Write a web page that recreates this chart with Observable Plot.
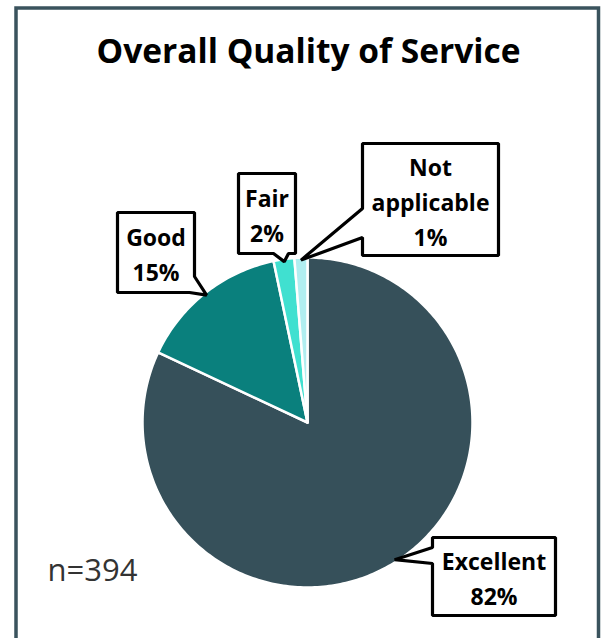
<!DOCTYPE html>
<html><head><meta charset="utf-8">
<script src="https://cdn.jsdelivr.net/npm/d3@7"></script>
<script src="https://cdn.jsdelivr.net/npm/@observablehq/plot@0.6"></script>
<style>html,body{margin:0;padding:0;background:#fff;overflow:hidden;}</style>
</head><body><div id="chart"></div>
<script>
// ---- data ----
const title = "Overall Quality of Service";
const categories = ["Excellent", "Good", "Fair", "Not applicable"];
const counts = [323, 58, 8, 5];          // estimated responses (n = 394)
const labelNames = ["Excellent", "Good", "Fair", "Not\napplicable"];
const sampleNote = "n=394";
const colors = ["#36505a", "#0a807d", "#40e0d0", "#b0eef0"];

// ---- layout (pixels) ----
const W = 602, H = 638, CX = 307, CY = 422, R = 165;
const calloutShapes = {
  "Excellent": [[432,537],[555,537],[555,615],[432,615],[432,563],"tip",[432,547]],
  "Good": [[117,212],[194,212],[194,276],"tip",[189,292],[117,292]],
  "Fair": [[238,173],[295,173],[295,253],[288,253],"tip",[273,253],[238,253]],
  "Not applicable": [[362,143],[498,143],[498,255],[362,255],[362,237],"tip",[362,208]]
};
const ux = px => (px - CX) / R;
const uy = py => (CY - py) / R;

// ---- geometry from data ----
const total = d3.sum(counts);
const slices = d3.pie().sort(null).value(d => d.value)(
  categories.map((c, i) => ({cat: c, value: counts[i]}))
);
const piePts = slices.flatMap(s => {
  const n = Math.max(2, Math.ceil((s.endAngle - s.startAngle) / (Math.PI / 180)));
  const pts = [{cat: s.data.cat, x: 0, y: 0}];
  for (let k = 0; k <= n; k++) {
    const a = s.startAngle + (s.endAngle - s.startAngle) * k / n;
    pts.push({cat: s.data.cat, x: Math.sin(a), y: Math.cos(a)});
  }
  return pts;
});
const bubblePts = slices.flatMap(s => {
  const mid = (s.startAngle + s.endAngle) / 2;
  const tip = {x: 0.985 * Math.sin(mid), y: 0.985 * Math.cos(mid)};
  return calloutShapes[s.data.cat].map(p =>
    p === "tip" ? {cat: s.data.cat, ...tip} : {cat: s.data.cat, x: ux(p[0]), y: uy(p[1])}
  );
});
const labels = categories.map((c, i) => {
  const shp = calloutShapes[c].filter(p => p !== "tip");
  const xs = shp.map(p => p[0]), ys = shp.map(p => p[1]);
  return {cat: c, text: labelNames[i] + "\n" + Math.round(100 * counts[i] / total) + "%",
    x: ux((Math.min(...xs) + Math.max(...xs)) / 2),
    y: uy((Math.min(...ys) + Math.max(...ys)) / 2)};
});

const chart = Plot.plot({
  width: W, height: H,
  margin: 0,
  style: {fontFamily: "'Open Sans', sans-serif", background: "#fff"},
  x: {domain: [ux(0), ux(W)], axis: null},
  y: {domain: [uy(H), uy(0)], axis: null},
  color: {domain: categories, range: colors},
  marks: [
    Plot.frame({insetLeft: 15.5, insetTop: 7.5, insetRight: 4, insetBottom: -20, stroke: "#3a535d", strokeWidth: 3.5}),
    Plot.line(piePts, {x: "x", y: "y", z: "cat", fill: "cat", stroke: "white", strokeWidth: 2.5, curve: "linear-closed"}),
    Plot.line(bubblePts, {x: "x", y: "y", z: "cat", fill: "white", stroke: "black", strokeWidth: 3.2, curve: "linear-closed", strokeLinejoin: "miter"}),
    Plot.text(labels, {x: "x", y: "y", text: "text", fontSize: 23, fontWeight: "bold", lineHeight: 1.52, fill: "black"}),
    Plot.text([title], {frameAnchor: "top", dx: 7, dy: 62, lineAnchor: "bottom", fontSize: 33.5, fontWeight: "bold", fill: "black"}),
    Plot.text([sampleNote], {frameAnchor: "bottom-left", textAnchor: "start", dx: 47, dy: -58, lineAnchor: "bottom", fontSize: 31, fill: "#333"})
  ]
});
document.getElementById("chart").appendChild(chart);
</script>
</body></html>
